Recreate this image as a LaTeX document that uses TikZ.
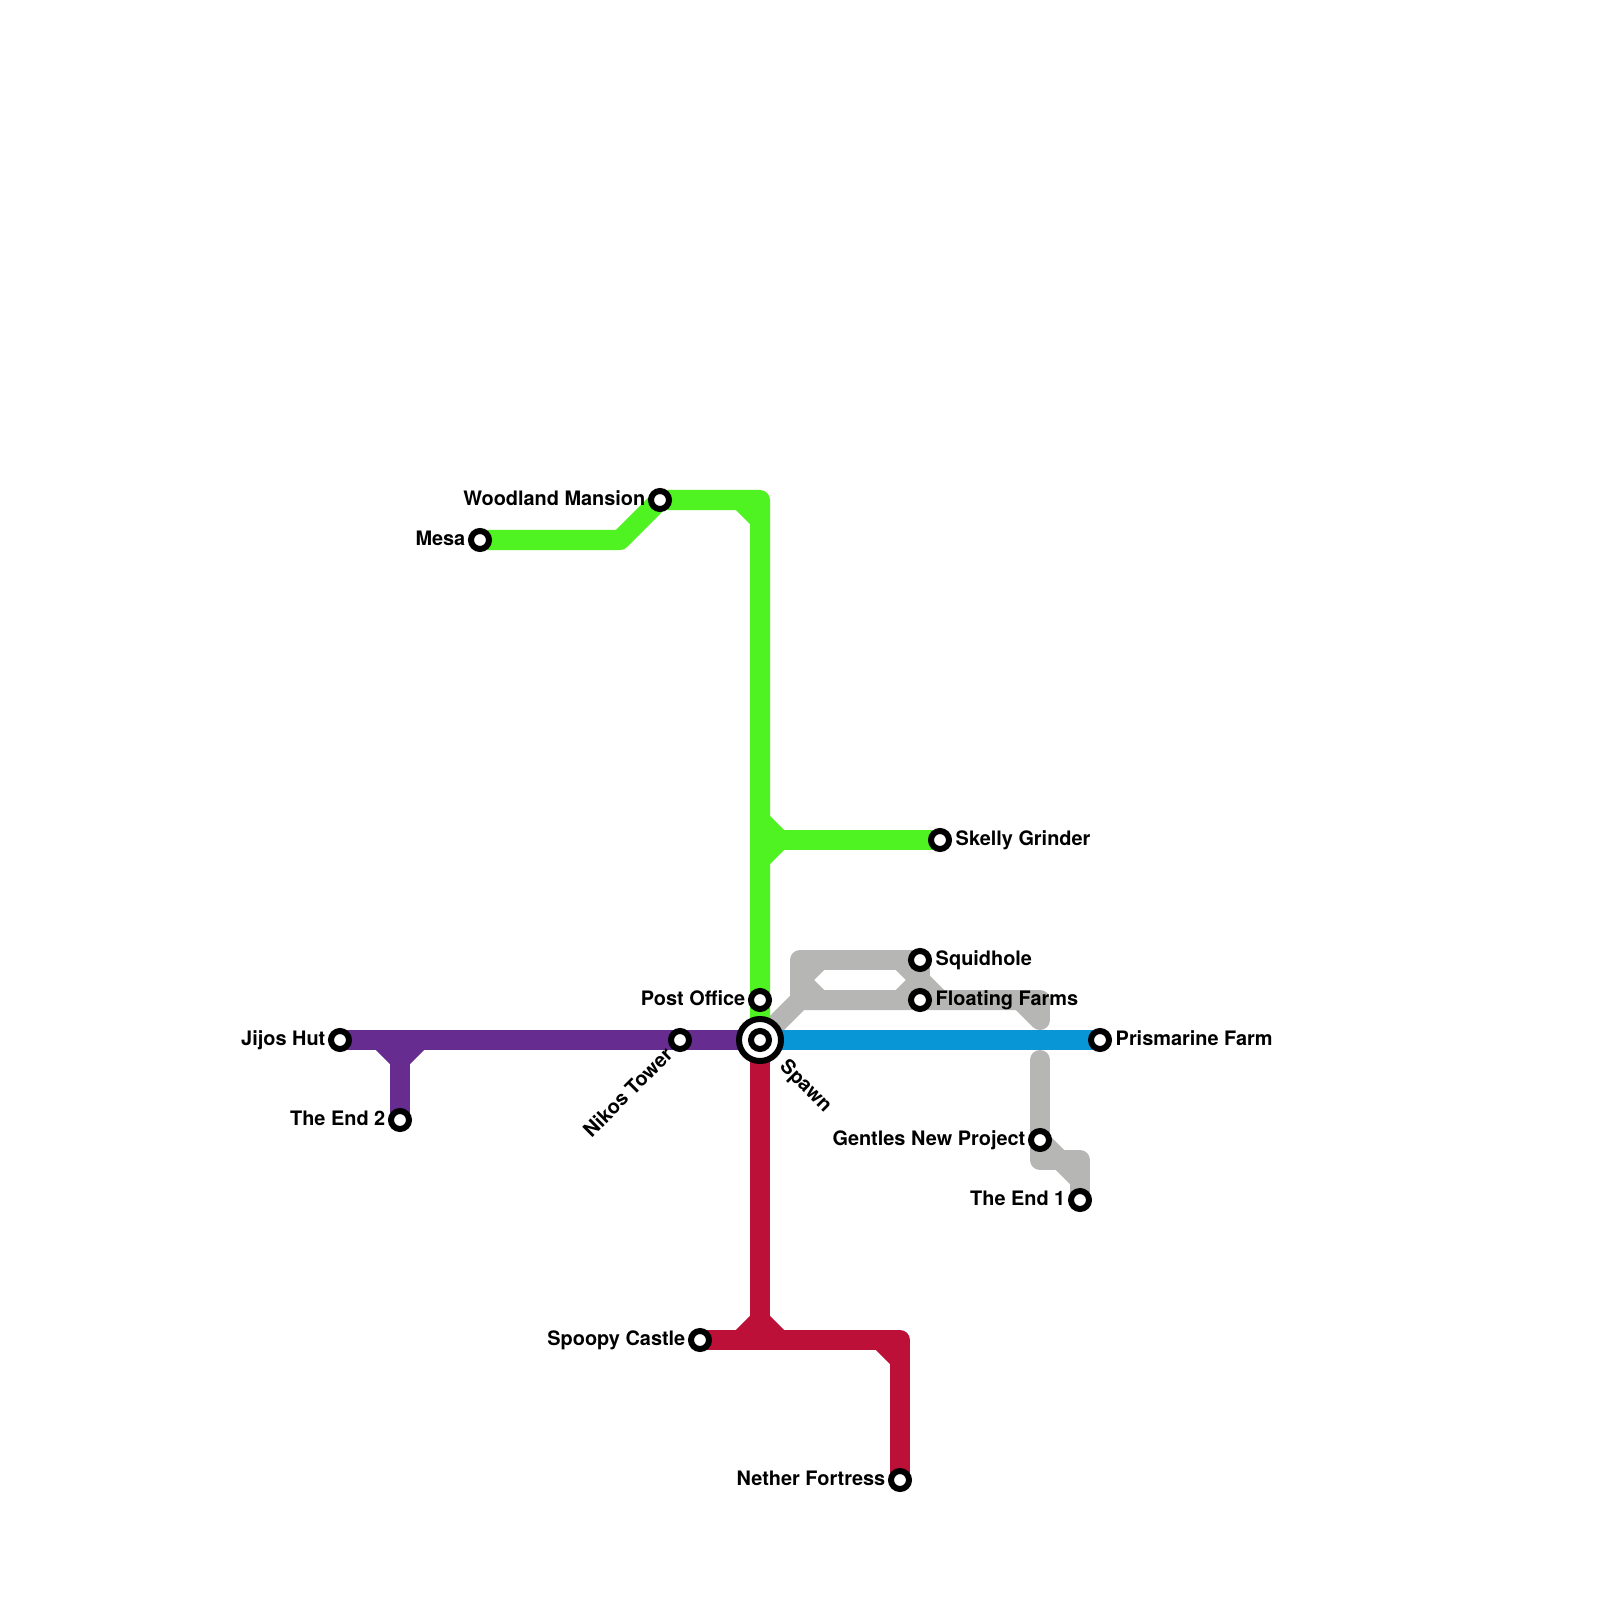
\documentclass[tikz,border=0pt]{standalone}
\usepackage{fontspec}
\setmainfont{TeX Gyre Heros}
\usepackage{tikz}
\usetikzlibrary{positioning}
\definecolor{linegreen}{RGB}{79,243,33}
\definecolor{linepurple}{RGB}{102,44,144}
\definecolor{linered}{RGB}{189,16,56}
\definecolor{lineblue}{RGB}{9,150,215}
\definecolor{linegray}{RGB}{182,182,180}
\tikzset{
  route/.style={line width=2mm, line join=round},
  stub/.style={route, line cap=round},
  stn/.style={circle, draw=black, fill=white, line width=0.6mm,
              minimum size=1.8mm, inner sep=0pt},
  hub/.style={circle, draw=black, fill=white, line width=0.6mm,
              minimum size=4.2mm, inner sep=0pt},
  lbl/.style={font=\fontsize{5.66}{6.5}\selectfont\bfseries, inner sep=0pt,
              text height=1.4mm, text depth=0.4mm},
}
\begin{document}
\begin{tikzpicture}[x=0.01cm, y=-0.01cm, node distance=0.3mm]
  \useasboundingbox (0,0) rectangle (1600,1600);
  % stops first, so that the routes can use their names
  \coordinate (spawn) at (760,1040);
  \coordinate (post) at (760,1000);
  \coordinate (jijos) at (340,1040);
  \coordinate (nikos) at (680,1040);
  \coordinate (endtwo) at (400,1120);
  \coordinate (mesa) at (480,540);
  \coordinate (woodland) at (660,500);
  \coordinate (skelly) at (940,840);
  \coordinate (squid) at (920,960);
  \coordinate (floating) at (920,1000);
  \coordinate (prism) at (1100,1040);
  \coordinate (gentles) at (1040,1140);
  \coordinate (endone) at (1080,1200);
  \coordinate (spoopy) at (700,1340);
  \coordinate (nether) at (900,1480);
  \coordinate (mesabend) at (620,540);
  \coordinate (woodbend) at (760,500);
  \coordinate (grayup) at (800,1000);
  \coordinate (graytop) at (800,960);
  \coordinate (grayend) at (1040,1000);
  \coordinate (graystop) at (1040,1020);
  \coordinate (graygo) at (1040,1060);
  \coordinate (grayfoot) at (1040,1160);
  \coordinate (grayfar) at (1080,1160);
  \coordinate (forkpurple) at (400,1040);
  \coordinate (forkred) at (760,1340);
  \coordinate (redbend) at (900,1340);
  \coordinate (forkgreen) at (760,840);
  % gray line
  \draw[route, linegray] (spawn) -- (grayup) -- (grayend);
  \draw[stub, linegray] (grayend) -- (graystop);
  \draw[route, linegray] (squid) -- (graytop) -- (grayup);
  \draw[route, linegray] (squid) -- (floating);
  \draw[stub, linegray] (graygo) -- (grayfoot) -- (grayfar) -- (endone);
  \draw[route, linegray] (820,960) -- (800,980) -- (820,1000);
  \draw[route, linegray] (900,1000) -- (920,980);
  \draw[route, linegray] (900,960) -- (940,1000);
  \draw[route, linegray] (1020,1000) -- (1040,1020);
  \draw[route, linegray] (gentles) -- (1080,1180);
  % green line
  \draw[route, linegreen] (mesa) -- (mesabend) -- (woodland) -- (woodbend) -- (spawn);
  \draw[route, linegreen] (forkgreen) -- (skelly);
  \draw[route, linegreen] (740,500) -- (760,520);
  \draw[route, linegreen] (760,820) -- (780,840) -- (760,860);
  % purple line
  \draw[route, linepurple] (jijos) -- (spawn);
  \draw[route, linepurple] (forkpurple) -- (endtwo);
  \draw[route, linepurple] (380,1040) -- (400,1060) -- (420,1040);
  % red line
  \draw[route, linered] (spawn) -- (forkred);
  \draw[route, linered] (spoopy) -- (redbend) -- (nether);
  \draw[route, linered] (740,1340) -- (760,1320) -- (780,1340);
  \draw[route, linered] (880,1340) -- (900,1360);
  % blue line
  \draw[route, lineblue] (spawn) -- (prism);
  % stations
  \node[hub] (spawnring) at (spawn) {};
  \node[stn] (spawnstn) at (spawn) {};
  \node[stn] (poststn) at (post) {};
  \node[stn] (jijosstn) at (jijos) {};
  \node[stn] (nikosstn) at (nikos) {};
  \node[stn] (endtwostn) at (endtwo) {};
  \node[stn] (mesastn) at (mesa) {};
  \node[stn] (woodlandstn) at (woodland) {};
  \node[stn] (skellystn) at (skelly) {};
  \node[stn] (squidstn) at (squid) {};
  \node[stn] (floatingstn) at (floating) {};
  \node[stn] (prismstn) at (prism) {};
  \node[stn] (gentlesstn) at (gentles) {};
  \node[stn] (endonestn) at (endone) {};
  \node[stn] (spoopystn) at (spoopy) {};
  \node[stn] (netherstn) at (nether) {};
  % labels
  \node[lbl, left=0.2mm of poststn] (postlbl) {Post Office};
  \node[lbl, left=0.2mm of jijosstn] (jijoslbl) {Jijos Hut};
  \node[lbl, left=0.2mm of endtwostn] (endtwolbl) {The End 2};
  \node[lbl, left=0.2mm of mesastn] (mesalbl) {Mesa};
  \node[lbl, left=0.2mm of woodlandstn] (woodlandlbl) {Woodland Mansion};
  \node[lbl, right=of skellystn] (skellylbl) {Skelly Grinder};
  \node[lbl, right=of squidstn] (squidlbl) {Squidhole};
  \node[lbl, right=of floatingstn] (floatinglbl) {Floating Farms};
  \node[lbl, right=of prismstn] (prismlbl) {Prismarine Farm};
  \node[lbl, left=0.2mm of gentlesstn] (gentleslbl) {Gentles New Project};
  \node[lbl, left=0.2mm of endonestn] (endonelbl) {The End 1};
  \node[lbl, left=0.2mm of spoopystn] (spoopylbl) {Spoopy Castle};
  \node[lbl, left=0.2mm of netherstn] (netherlbl) {Nether Fortress};
  \node[lbl, rotate=45, anchor=east, xshift=-0.3mm, yshift=-0.2mm] (nikoslbl) at (nikosstn.south west) {Nikos Tower};
  \node[lbl, rotate=-45, anchor=west, xshift=0.82mm, yshift=-0.12mm] (spawnlbl) at (spawnring.south east) {Spawn};
\end{tikzpicture}
\end{document}
